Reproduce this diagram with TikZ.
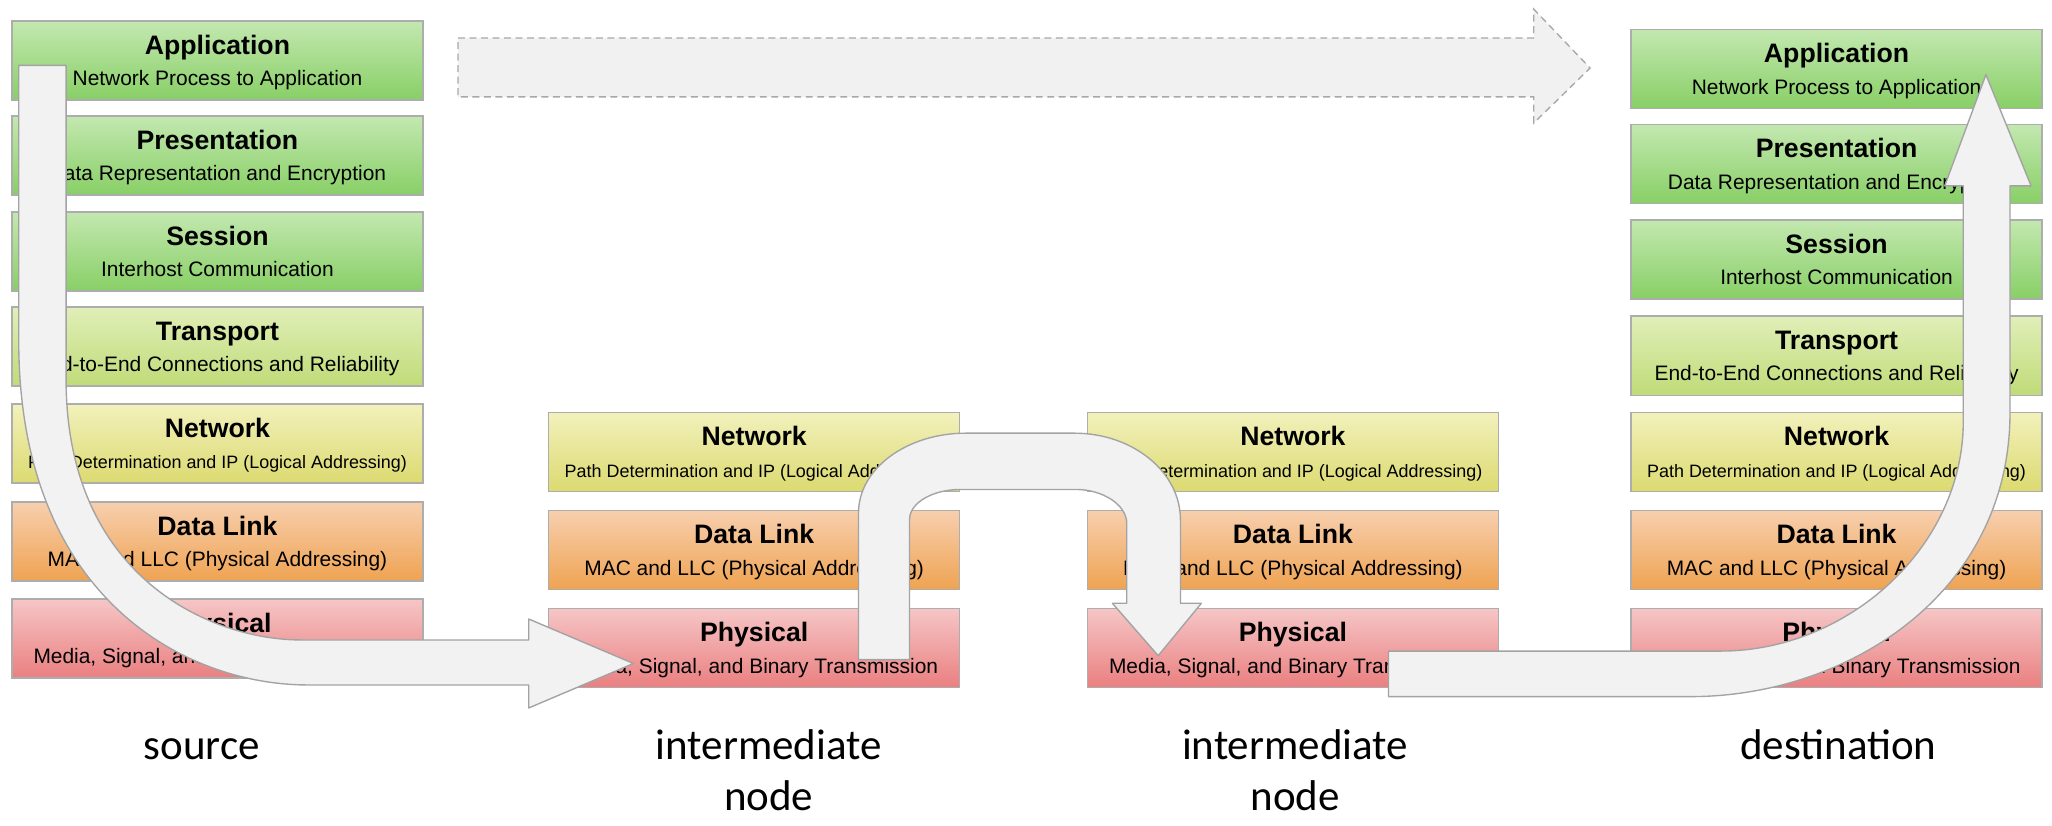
\documentclass[tikz,border=0pt]{standalone}
\usepackage{fontspec}
\setmainfont{Liberation Sans}
\newfontfamily\labelfont{Carlito}
\usetikzlibrary{calc}
\definecolor{boxline}{HTML}{ADADAD}
\definecolor{gTop}{HTML}{C3E8B0}
\definecolor{gBot}{HTML}{88CF66}
\definecolor{tTop}{HTML}{E0EFB8}
\definecolor{tBot}{HTML}{C0DB78}
\definecolor{nTop}{HTML}{F2F1BC}
\definecolor{nBot}{HTML}{DCDA70}
\definecolor{dTop}{HTML}{F7CFAE}
\definecolor{dBot}{HTML}{EFA352}
\definecolor{pTop}{HTML}{F6C6C6}
\definecolor{pBot}{HTML}{EA7F80}
\definecolor{arrowfill}{HTML}{F2F2F2}
\definecolor{arrowline}{HTML}{A3A3A3}
\definecolor{dashfill}{HTML}{F1F1F1}
\definecolor{dashline}{HTML}{A8A8A8}
\tikzset{
  layerbox/.style={draw=boxline, line width=0.6pt, anchor=north west,
    minimum width=6.28cm, minimum height=1.21cm, inner sep=0pt, outer sep=0pt},
  appcol/.style={top color=gTop, bottom color=gBot},
  tracol/.style={top color=tTop, bottom color=tBot},
  netcol/.style={top color=nTop, bottom color=nBot},
  dllcol/.style={top color=dTop, bottom color=dBot},
  phycol/.style={top color=pTop, bottom color=pBot},
  ttl/.style={anchor=base, inner sep=0pt, font=\fontsize{11.6}{13}\selectfont\bfseries},
  sub/.style={anchor=base, inner sep=0pt, font=\fontsize{9.1}{11}\selectfont},
  subsm/.style={anchor=base, inner sep=0pt, font=\fontsize{7.8}{9}\selectfont},
  lbl/.style={anchor=base, inner sep=0pt, font=\labelfont\fontsize{18.7}{22}\selectfont},
  blockarrow/.style={fill=arrowfill, draw=arrowline, line width=0.6pt, line join=round},
  dasharrow/.style={fill=dashfill, draw=dashline, line width=0.6pt, dash pattern=on 3pt off 2pt},
}
\newcommand\osilayer[7]{%
  \node[layerbox,#4] (#1) at (#2,#3) {};
  \node[ttl] (#1t) at ([yshift=-0.51cm]#1.north) {#5};
  \node[#7] (#1s) at ([yshift=-0.992cm]#1.north) {#6};}
\begin{document}
\begin{tikzpicture}[x=0.02cm, y=-0.02cm]
\useasboundingbox (0,0) rectangle (1568,631);
% source stack
\osilayer{sApp}{9.2}{16}{appcol}{Application}{Network Process to Application}{sub}
\osilayer{sPre}{9.2}{88.6}{appcol}{Presentation}{Data Representation and Encryption}{sub}
\osilayer{sSes}{9.2}{162}{appcol}{Session}{Interhost Communication}{sub}
\osilayer{sTra}{9.2}{234.6}{tracol}{Transport}{End-to-End Connections and Reliability}{sub}
\osilayer{sNet}{9.2}{308.7}{netcol}{Network}{Path Determination and IP (Logical Addressing)}{subsm}
\osilayer{sDll}{9.2}{383.6}{dllcol}{Data Link}{MAC and LLC (Physical Addressing)}{sub}
\osilayer{sPhy}{9.2}{457.7}{phycol}{Physical}{Media, Signal, and Binary Transmission}{sub}
% intermediate 1
\osilayer{aNet}{419.3}{315}{netcol}{Network}{Path Determination and IP (Logical Addressing)}{subsm}
\osilayer{aDll}{419.3}{390}{dllcol}{Data Link}{MAC and LLC (Physical Addressing)}{sub}
\osilayer{aPhy}{419.3}{464.8}{phycol}{Physical}{Media, Signal, and Binary Transmission}{sub}
% intermediate 2
\osilayer{bNet}{831}{315}{netcol}{Network}{Path Determination and IP (Logical Addressing)}{subsm}
\osilayer{bDll}{831}{390}{dllcol}{Data Link}{MAC and LLC (Physical Addressing)}{sub}
\osilayer{bPhy}{831}{464.8}{phycol}{Physical}{Media, Signal, and Binary Transmission}{sub}
% destination stack
\osilayer{dApp}{1246.4}{22.4}{appcol}{Application}{Network Process to Application}{sub}
\osilayer{dPre}{1246.4}{95}{appcol}{Presentation}{Data Representation and Encryption}{sub}
\osilayer{dSes}{1246.4}{168}{appcol}{Session}{Interhost Communication}{sub}
\osilayer{dTra}{1246.4}{241.5}{tracol}{Transport}{End-to-End Connections and Reliability}{sub}
\osilayer{dNet}{1246.4}{315}{netcol}{Network}{Path Determination and IP (Logical Addressing)}{subsm}
\osilayer{dDll}{1246.4}{390}{dllcol}{Data Link}{MAC and LLC (Physical Addressing)}{sub}
\osilayer{dPhy}{1246.4}{464.8}{phycol}{Physical}{Media, Signal, and Binary Transmission}{sub}
% dashed virtual arrow
\draw[dasharrow] (350,29) -- (1172,29) -- (1172,7) -- (1215,52) -- (1172,94) -- (1172,74) -- (350,74) -- cycle;
% source: down the stack and out
\draw[blockarrow] (14.3,50) -- (14.3,260)
  .. controls (14.3,460) and (145,523.4) .. (235,523.4)
  -- (404,523.4) -- (404,541) -- (484,507) -- (404,473) -- (404,489)
  -- (230,489) .. controls (160,489) and (50.5,440) .. (50.5,290)
  -- (50.5,50) -- cycle;
% intermediate hop
\draw[blockarrow] (656,504) -- (656,392)
  .. controls (656,358) and (693,331) .. (738,331)
  -- (821,331) .. controls (866,331) and (902,361) .. (902,397)
  -- (902,461) -- (918,461) -- (885,501) -- (850,461) -- (861,461)
  -- (861,400) .. controls (861,386) and (843,374) .. (822,374)
  -- (734,374) .. controls (713,374) and (695,384) .. (695,397)
  -- (695,504) -- cycle;
% destination: up the stack
\draw[blockarrow] (1061,497.5) -- (1315,497.5)
  .. controls (1412,497.5) and (1500.2,418) .. (1500.2,322)
  -- (1500.2,142) -- (1486,142) -- (1517.5,57) -- (1552,142) -- (1535.9,142)
  -- (1535.9,315) .. controls (1535.9,455) and (1410,532.3) .. (1292,532.3)
  -- (1061,532.3) -- cycle;
% labels
\node[lbl] (lsrc) at (154.3,580.7) {source};
\node[lbl] (lim1a) at (587.4,580.7) {intermediate};
\node[lbl] (lim1b) at (587.4,619) {node};
\node[lbl] (lim2a) at (989.6,580.7) {intermediate};
\node[lbl] (lim2b) at (989.6,619) {node};
\node[lbl] (ldst) at (1404.8,580.7) {destination};
\end{tikzpicture}
\end{document}
